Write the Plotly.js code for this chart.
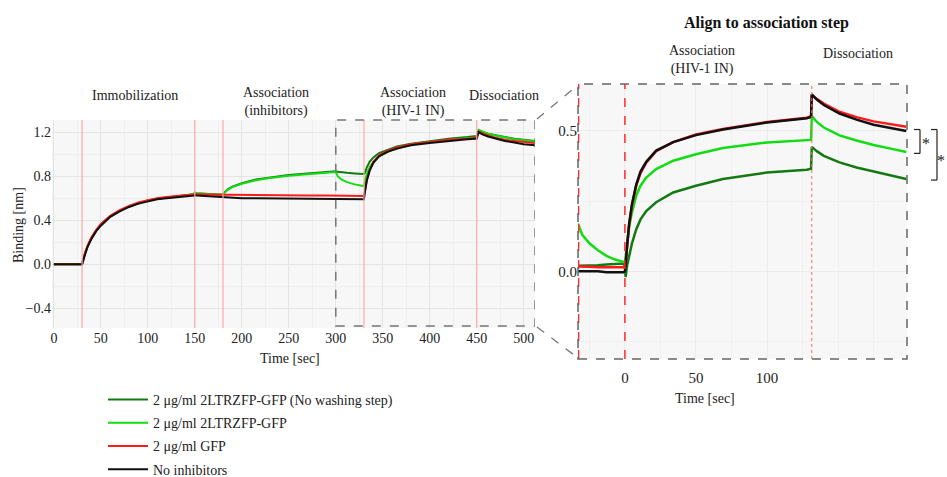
<!DOCTYPE html>
<html>
<head>
<meta charset="utf-8">
<script src="https://cdn.plot.ly/plotly-3.0.1.min.js"></script>
<style>
html,body{margin:0;padding:0;background:#fff;}
#chart{width:947px;height:477px;}
</style>
</head>
<body>
<div id="chart"></div>
<script>
// ---------- DATA ----------
const seriesNames = ["2 μg/ml 2LTRZFP-GFP (No washing step)", "2 μg/ml 2LTRZFP-GFP", "2 μg/ml GFP", "No inhibitors"];
const seriesColors = ["#137a13", "#12dd12", "#ff1a1a", "#111111"];

// Full sensorgram (left panel)
const timeFull = [0, 29, 30, 31, 33, 36, 40, 45, 50, 60, 70, 80, 90, 100, 110, 120, 130, 140, 149, 150, 152, 160, 170, 179, 180, 182, 185, 190, 200, 215, 230, 250, 270, 290, 300, 302, 306, 312, 320, 329, 330, 331, 333, 336, 340, 346, 355, 365, 380, 400, 420, 440, 449, 450, 452, 456, 462, 470, 480, 490, 500, 512];
const noWashFull = [0, 0, 0, 0.03, 0.095, 0.165, 0.24, 0.305, 0.36, 0.435, 0.485, 0.525, 0.555, 0.578, 0.595, 0.607, 0.618, 0.628, 0.635, 0.65, 0.645, 0.64, 0.635, 0.63, 0.63, 0.655, 0.68, 0.705, 0.735, 0.77, 0.79, 0.81, 0.825, 0.84, 0.845, 0.84, 0.835, 0.83, 0.825, 0.82, 0.82, 0.83, 0.88, 0.93, 0.97, 1.01, 1.04, 1.07, 1.095, 1.12, 1.14, 1.155, 1.16, 1.165, 1.215, 1.2, 1.185, 1.17, 1.155, 1.14, 1.13, 1.12];
const zfpFull = [0, 0, 0, 0.03, 0.095, 0.165, 0.24, 0.305, 0.36, 0.435, 0.485, 0.525, 0.555, 0.578, 0.595, 0.607, 0.618, 0.628, 0.635, 0.65, 0.645, 0.64, 0.635, 0.63, 0.63, 0.654, 0.676, 0.70, 0.73, 0.762, 0.783, 0.803, 0.818, 0.832, 0.838, 0.80, 0.77, 0.745, 0.725, 0.71, 0.71, 0.76, 0.82, 0.88, 0.93, 0.98, 1.02, 1.05, 1.085, 1.11, 1.13, 1.145, 1.15, 1.155, 1.22, 1.205, 1.185, 1.17, 1.15, 1.135, 1.125, 1.115];
const gfpFull = [0, 0, 0, 0.03, 0.10, 0.17, 0.245, 0.31, 0.365, 0.44, 0.49, 0.53, 0.56, 0.58, 0.60, 0.61, 0.62, 0.63, 0.635, 0.635, 0.635, 0.632, 0.63, 0.628, 0.628, 0.63, 0.63, 0.63, 0.628, 0.627, 0.626, 0.625, 0.624, 0.623, 0.622, 0.622, 0.622, 0.622, 0.621, 0.62, 0.62, 0.66, 0.76, 0.85, 0.93, 0.99, 1.03, 1.06, 1.09, 1.11, 1.13, 1.14, 1.145, 1.15, 1.205, 1.19, 1.17, 1.15, 1.13, 1.12, 1.11, 1.10];
const noInhFull = [0, 0, 0, 0.03, 0.09, 0.16, 0.23, 0.30, 0.35, 0.43, 0.48, 0.52, 0.55, 0.57, 0.59, 0.60, 0.61, 0.62, 0.625, 0.625, 0.625, 0.62, 0.615, 0.61, 0.61, 0.605, 0.605, 0.605, 0.60, 0.60, 0.598, 0.596, 0.594, 0.592, 0.59, 0.59, 0.59, 0.59, 0.59, 0.588, 0.59, 0.66, 0.76, 0.85, 0.92, 0.98, 1.02, 1.05, 1.08, 1.10, 1.12, 1.135, 1.14, 1.14, 1.20, 1.18, 1.16, 1.14, 1.12, 1.105, 1.09, 1.08];
const stepLines = [30, 150, 180, 330, 450];
const zoomStart = 300;

// Aligned to association step (right panel)
const timeAligned = [-33, -30, -25, -19, -13, -7, -1, 0, 0.5, 1.5, 3, 5, 8, 11, 15, 22, 34, 50, 69, 100, 128, 131, 131.5, 135, 140, 151, 163, 175, 187, 198];
const noWashAligned = [0.02, 0.02, 0.021, 0.022, 0.024, 0.026, 0.028, 0.02, -0.02, 0.02, 0.06, 0.10, 0.15, 0.185, 0.215, 0.246, 0.281, 0.305, 0.329, 0.352, 0.362, 0.365, 0.443, 0.428, 0.411, 0.388, 0.37, 0.355, 0.341, 0.329];
const zfpAligned = [0.17, 0.13, 0.10, 0.075, 0.055, 0.042, 0.034, 0.03, 0.05, 0.10, 0.16, 0.21, 0.27, 0.305, 0.334, 0.364, 0.394, 0.417, 0.439, 0.459, 0.465, 0.468, 0.553, 0.532, 0.512, 0.484, 0.466, 0.45, 0.437, 0.425];
const gfpAligned = [0.017, 0.016, 0.016, 0.015, 0.015, 0.015, 0.014, 0.015, 0.03, 0.09, 0.165, 0.235, 0.305, 0.35, 0.387, 0.428, 0.46, 0.487, 0.507, 0.532, 0.547, 0.552, 0.627, 0.614, 0.597, 0.568, 0.549, 0.534, 0.523, 0.515];
const noInhAligned = [0.0, 0.0, -0.002, 0.0, -0.003, -0.002, -0.003, 0.0, 0.02, 0.09, 0.17, 0.24, 0.31, 0.355, 0.39, 0.43, 0.46, 0.485, 0.505, 0.53, 0.545, 0.55, 0.63, 0.612, 0.592, 0.562, 0.54, 0.522, 0.51, 0.50];
const assocStart = 0, dissocStart = 131.5, alignedLeft = -32.6;
const bracketInner = [0.505, 0.42];
const bracketOuter = [0.505, 0.325];

// ---------- CHART ----------
const FONT = "Liberation Serif, Times New Roman, serif";
const W = 947, H = 477;
const px = v => v / W, py = v => 1 - v / H;

const fullY = [noWashFull, zfpFull, gfpFull, noInhFull];
const alignedY = [noWashAligned, zfpAligned, gfpAligned, noInhAligned];
const traces = [];
seriesNames.forEach((n, i) => {
  traces.push({x: timeFull, y: fullY[i], type: 'scatter', mode: 'lines', name: n,
    legendgroup: 'g' + i, line: {color: seriesColors[i], width: 2}, xaxis: 'x', yaxis: 'y'});
});
seriesNames.forEach((n, i) => {
  traces.push({x: timeAligned, y: alignedY[i], type: 'scatter', mode: 'lines', name: n,
    legendgroup: 'g' + i, showlegend: false, line: {color: seriesColors[i], width: 2.5}, xaxis: 'x2', yaxis: 'y2'});
});

const shapes = [];
stepLines.forEach(t => shapes.push({type: 'line', xref: 'x', yref: 'y domain', x0: t, x1: t, y0: 0, y1: 1,
  line: {color: '#ffaaaa', width: 1.2}, layer: 'above'}));
shapes.push({type: 'rect', xref: 'x', yref: 'y domain', x0: zoomStart, x1: 512, y0: 0.01, y1: 1,
  line: {color: '#777', width: 1.5, dash: 'dash'}});
// right panel marks
shapes.push({type: 'line', xref: 'x2', yref: 'y2 domain', x0: alignedLeft, x1: alignedLeft, y0: 0, y1: 1, line: {color: '#ff2a2a', width: 1.5, dash: 'dash'}});
shapes.push({type: 'line', xref: 'x2', yref: 'y2 domain', x0: assocStart, x1: assocStart, y0: 0, y1: 1, line: {color: '#ff2a2a', width: 1.5, dash: 'dash'}});
shapes.push({type: 'line', xref: 'x2', yref: 'y2 domain', x0: dissocStart, x1: dissocStart, y0: 0, y1: 1, line: {color: '#ff6666', width: 1, dash: 'dot'}});
shapes.push({type: 'rect', xref: 'x2 domain', yref: 'y2 domain', x0: 0, x1: 1, y0: 0, y1: 1, line: {color: '#666', width: 1.5, dash: 'dash'}});
// connecting zoom lines
shapes.push({type: 'line', xref: 'paper', yref: 'paper', x0: px(537), y0: py(119), x1: px(578), y1: py(85), line: {color: '#777', width: 1.3, dash: 'dash'}});
shapes.push({type: 'line', xref: 'paper', yref: 'paper', x0: px(537), y0: py(327), x1: px(578), y1: py(358), line: {color: '#777', width: 1.3, dash: 'dash'}});
// significance brackets
[[914, 920, bracketInner], [931, 937, bracketOuter]].forEach(([a, b, r]) => {
  shapes.push({type: 'line', xref: 'paper', yref: 'y2', x0: px(a), x1: px(b), y0: r[0], y1: r[0], line: {color: '#222', width: 1.2}});
  shapes.push({type: 'line', xref: 'paper', yref: 'y2', x0: px(b), x1: px(b), y0: r[0], y1: r[1], line: {color: '#222', width: 1.2}});
  shapes.push({type: 'line', xref: 'paper', yref: 'y2', x0: px(a), x1: px(b), y0: r[1], y1: r[1], line: {color: '#222', width: 1.2}});
});

const ann = (text, x, y, extra) => Object.assign({text, xref: 'paper', yref: 'paper', x: px(x), y: py(y),
  xanchor: 'center', yanchor: 'middle', showarrow: false, font: {family: FONT, size: 14, color: '#222'}}, extra || {});
const annotations = [
  ann('Immobilization', 135, 95),
  ann('Association<br>(inhibitors)', 276, 102),
  ann('Association<br>(HIV-1 IN)', 413, 102),
  ann('Dissociation', 504, 96),
  ann('Binding [nm]', 18, 225, {textangle: -90}),
  ann('Time [sec]', 290, 358),
  ann('<b>Align to association step</b>', 766, 23, {font: {family: FONT, size: 16, color: '#111'}}),
  ann('Association<br>(HIV-1 IN)', 702, 60),
  ann('Dissociation', 858, 53),
  ann('Time [sec]', 705, 398),
  ann('*', 926, 143, {font: {family: FONT, size: 16, color: '#222'}}),
  ann('*', 941, 160, {font: {family: FONT, size: 16, color: '#222'}})
];

const gridC = '#e4e4e4', minorC = '#eeeeee';
const layout = {
  width: W, height: H, margin: {l: 0, r: 0, t: 0, b: 0, autoexpand: false},
  paper_bgcolor: '#ffffff', plot_bgcolor: '#f7f7f7',
  font: {family: FONT, size: 14, color: '#222'},
  showlegend: true,
  legend: {x: px(103), y: py(384), xanchor: 'left', yanchor: 'top', bgcolor: 'rgba(0,0,0,0)',
    font: {family: FONT, size: 14, color: '#222'}, tracegroupgap: 2, itemwidth: 40, maxheight: 300},
  xaxis: {domain: [px(52), px(535)], range: [-2, 512], dtick: 50, tick0: 0, showgrid: true, gridcolor: gridC,
    minor: {dtick: 25, showgrid: true, gridcolor: minorC}, zeroline: false, showline: false, ticks: '', anchor: 'y',
    tickfont: {family: FONT, size: 14, color: '#222'}},
  yaxis: {domain: [py(328), py(120)], range: [-0.58, 1.31], dtick: 0.4, tick0: 0, tickformat: '.1f', showgrid: true, gridcolor: gridC,
    minor: {dtick: 0.2, showgrid: true, gridcolor: minorC}, zeroline: false, showline: false, ticks: '', anchor: 'x',
    tickfont: {family: FONT, size: 14, color: '#222'}},
  xaxis2: {domain: [px(578), px(907)], range: [-33, 198.5], tickvals: [0, 50, 100], showgrid: true, gridcolor: '#ececec',
    minor: {dtick: 25, showgrid: true, gridcolor: '#f0f0f0'}, zeroline: false, showline: false, ticks: '', anchor: 'y2',
    ticklabelstandoff: 8, tickfont: {family: FONT, size: 15, color: '#222'}},
  yaxis2: {domain: [py(359), py(84)], range: [-0.312, 0.667], tickvals: [0, 0.5], tickformat: '.1f', showgrid: true, gridcolor: '#ececec',
    minor: {dtick: 0.25, showgrid: true, gridcolor: '#f0f0f0'}, zeroline: false, showline: false, ticks: '', anchor: 'x2',
    tickfont: {family: FONT, size: 15, color: '#222'}},
  shapes, annotations
};

Plotly.newPlot('chart', traces, layout, {displayModeBar: false, staticPlot: true});
</script>
</body>
</html>
